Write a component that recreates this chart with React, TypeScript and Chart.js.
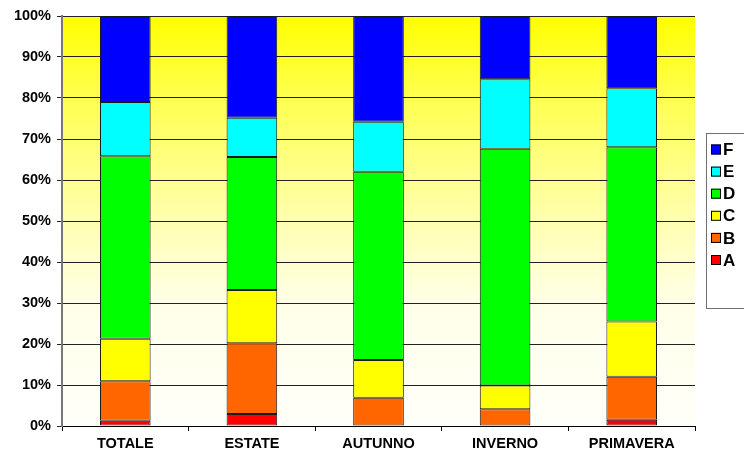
import React, { useEffect, useRef } from "react";
import { Chart, registerables } from "chart.js";

Chart.register(...registerables);

const categories = ["TOTALE", "ESTATE", "AUTUNNO", "INVERNO", "PRIMAVERA"];
const seriesA = [1.3, 2.9, 0, 0, 1.5];
const seriesB = [9.6, 17.3, 6.9, 4.1, 10.5];
const seriesC = [10.4, 13.0, 9.2, 5.8, 13.5];
const seriesD = [44.5, 32.4, 45.9, 57.7, 42.5];
const seriesE = [13.2, 9.6, 12.2, 17.0, 14.4];
const seriesF = [21.0, 24.8, 25.8, 15.4, 17.6];
const seriesLabels = ["A", "B", "C", "D", "E", "F"];
const seriesColors = ["#FF0000", "#FF6600", "#FFFF00", "#00FF00", "#00FFFF", "#0000FF"];
const yTickValues = [0, 10, 20, 30, 40, 50, 60, 70, 80, 90, 100];

const FONT = "'Liberation Sans', Arial, sans-serif";

const bgPlugin = {
  id: "bgGradient",
  beforeDraw(chart: any) {
    const { ctx, chartArea } = chart;
    if (!chartArea) return;
    const g = ctx.createLinearGradient(0, chartArea.top, 0, chartArea.bottom);
    g.addColorStop(0, "#FFFF00");
    g.addColorStop(0.2, "#FFFF50");
    g.addColorStop(0.5, "#FFFFB0");
    g.addColorStop(0.7, "#FFFFE8");
    g.addColorStop(1, "#FFFFFA");
    ctx.save();
    ctx.fillStyle = g;
    ctx.fillRect(chartArea.left, chartArea.top, chartArea.right - chartArea.left, chartArea.bottom - chartArea.top);
    ctx.restore();
  },
};

const legendPlugin = {
  id: "customLegend",
  afterDraw(chart: any) {
    const { ctx } = chart;
    const x = 706;
    const y = 133;
    const w = 60;
    const h = 175;
    ctx.save();
    ctx.fillStyle = "#FFFFFF";
    ctx.fillRect(x, y, w, h);
    ctx.strokeStyle = "#707070";
    ctx.lineWidth = 1;
    ctx.strokeRect(x + 0.5, y + 0.5, w, h);
    const datasets = chart.data.datasets;
    ctx.font = `bold 17px ${FONT}`;
    ctx.textBaseline = "middle";
    for (let i = datasets.length - 1, row = 0; i >= 0; i--, row++) {
      const cy = 149.5 + row * 22.1;
      ctx.fillStyle = datasets[i].backgroundColor;
      ctx.fillRect(711, cy - 5, 10, 10);
      ctx.strokeStyle = "#000";
      ctx.strokeRect(711.5, cy - 4.5, 9, 9);
      ctx.fillStyle = "#000";
      ctx.fillText(datasets[i].label, 723, cy + 1);
    }
    ctx.restore();
  },
};

export default function App() {
  const ref = useRef<HTMLCanvasElement | null>(null);
  useEffect(() => {
    if (!ref.current) return;
    const allSeries = [seriesA, seriesB, seriesC, seriesD, seriesE, seriesF];
    const chart = new Chart(ref.current, {
      type: "bar",
      data: {
        labels: categories,
        datasets: allSeries.map((s, i) => ({
          label: seriesLabels[i],
          data: s,
          backgroundColor: seriesColors[i],
          borderColor: "#1a1a1a",
          borderWidth: 1,
          borderSkipped: false,
          barPercentage: 0.4,
          categoryPercentage: 1,
        })),
      },
      options: {
        responsive: false,
        animation: false,
        layout: { padding: { top: 16, right: 49, left: 0, bottom: 0 } },
        plugins: { legend: { display: false }, tooltip: { enabled: false } },
        scales: {
          x: {
            stacked: true,
            grid: { drawOnChartArea: false, drawTicks: true, tickLength: 5, offset: true, color: "#000" },
            border: { color: "#000", width: 1 },
            ticks: { color: "#000", font: { family: FONT, size: 14.5, weight: "bold" }, padding: 4 },
            afterFit: (scale: any) => {
              scale.height = 29;
            },
          },
          y: {
            stacked: true,
            min: 0,
            max: 100,
            afterBuildTicks: (scale: any) => {
              scale.ticks = yTickValues.map((v) => ({ value: v }));
            },
            grid: { color: "#222", lineWidth: 1, tickLength: 5, drawTicks: true },
            border: { color: "#777", width: 2 },
            ticks: {
              color: "#000",
              padding: 6,
              font: { family: FONT, size: 14.5, weight: "bold" },
              callback: (v: any) => v + "%",
            },
            afterFit: (scale: any) => {
              scale.width = 62;
            },
          },
        },
      },
      plugins: [bgPlugin, legendPlugin],
    });
    return () => chart.destroy();
  }, []);
  return (
    <div style={{ position: "fixed", left: 0, top: 0, width: 744, height: 455, background: "#fff", overflow: "hidden" }}>
      <canvas ref={ref} width={744} height={455} style={{ width: 744, height: 455, display: "block" }} />
    </div>
  );
}
